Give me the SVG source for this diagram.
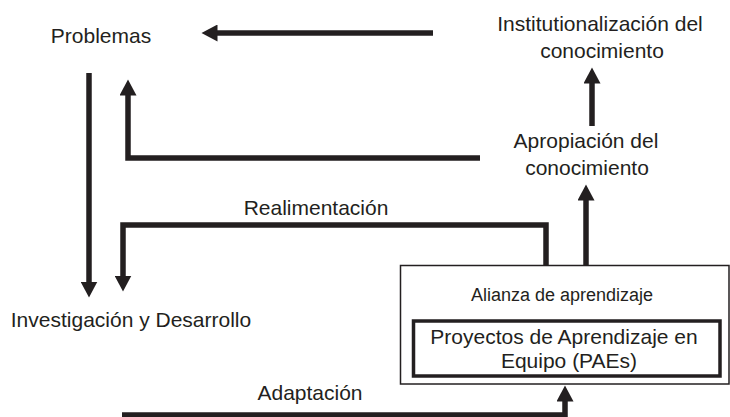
<svg xmlns="http://www.w3.org/2000/svg" width="730" height="417" viewBox="0 0 730 417">
<style>
text{font-family:"Liberation Sans",Arial,sans-serif;fill:#231f20;font-size:21px;text-anchor:middle}
.sm{font-size:18px}
.c{fill:none;stroke:#231f20;stroke-width:5.5;stroke-linejoin:miter}
</style>
<defs>
<marker id="ah" markerUnits="userSpaceOnUse" markerWidth="17" markerHeight="17" refX="0.5" refY="8.5" orient="auto" viewBox="0 0 17 17">
<path d="M0,0 L16,8.5 L0,17 z" fill="#231f20"/>
</marker>
</defs>
<rect width="730" height="417" fill="#fff"/>
<g id="n-problemas"><text x="101" y="43">Problemas</text></g>
<g id="n-institucionalizacion"><text x="600" y="31">Institutionalización del</text><text x="602" y="58">conocimiento</text></g>
<g id="n-apropiacion"><text x="586" y="148">Apropiación del</text><text x="587" y="175">conocimiento</text></g>
<g id="n-investigacion"><text x="131" y="327">Investigación y Desarrollo</text></g>
<g id="n-alianza">
<rect x="400.5" y="265.5" width="328.5" height="118.5" fill="#fff" stroke="#231f20" stroke-width="1.5"/>
<text class="sm" x="562" y="301">Alianza de aprendizaje</text>
</g>
<g id="n-paes">
<rect x="413.5" y="321" width="306.5" height="55" fill="none" stroke="#231f20" stroke-width="3.5"/>
<text x="564" y="344">Proyectos de Aprendizaje en</text>
<text x="569" y="368">Equipo (PAEs)</text>
</g>
<g id="connectors">
<path class="c" d="M433,33 H217" marker-end="url(#ah)"/>
<path class="c" d="M89,73 V282" marker-end="url(#ah)"/>
<path class="c" d="M480,158 H128 V95" marker-end="url(#ah)"/>
<path class="c" d="M592,126 V83" marker-end="url(#ah)"/>
<path class="c" d="M586,265 V200" marker-end="url(#ah)"/>
<path class="c" d="M546,265 V225 H123 V276" marker-end="url(#ah)"/>
<path class="c" d="M122,415 H565 V401" marker-end="url(#ah)"/>
<text x="316" y="215">Realimentación</text>
<text x="310" y="400">Adaptación</text>
</g>
</svg>
